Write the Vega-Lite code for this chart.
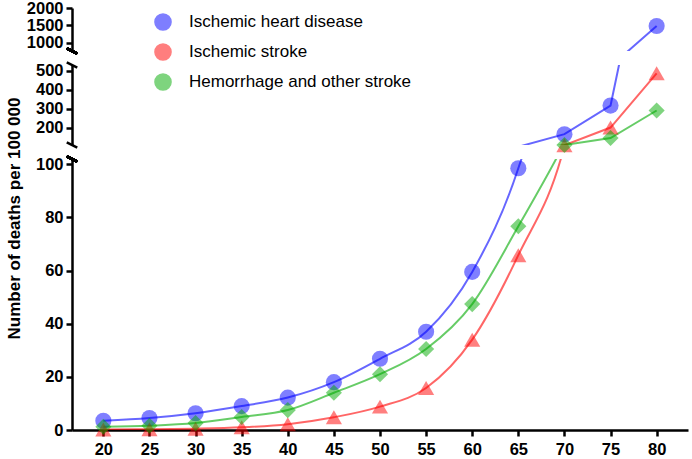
{
  "$schema": "https://vega.github.io/schema/vega-lite/v6.json",
  "padding": {"left": 5, "top": 0, "right": 4, "bottom": 3},
  "spacing": 14,
  "bounds": "flush",
  "config": {
    "view": {"stroke": null},
    "font": "Liberation Sans",
    "axis": {
      "domainColor": "black", "domainWidth": 2.5, "tickColor": "black", "tickWidth": 2.5, "tickSize": 6,
      "labelFont": "Liberation Sans", "labelFontWeight": "bold", "labelFontSize": 16.5, "labelColor": "black",
      "labelOverlap": false, "labelPadding": 3, "format": "d",
      "grid": false, "titleFont": "Liberation Sans", "titleFontWeight": "bold", "titleFontSize": 17, "titleColor": "black"
    }
  },
  "data": {"values": [
    {"age": 20, "cause": "Ischemic heart disease", "deaths": 3.5},
    {"age": 25, "cause": "Ischemic heart disease", "deaths": 4.5},
    {"age": 30, "cause": "Ischemic heart disease", "deaths": 6.3},
    {"age": 35, "cause": "Ischemic heart disease", "deaths": 9},
    {"age": 40, "cause": "Ischemic heart disease", "deaths": 12.2},
    {"age": 45, "cause": "Ischemic heart disease", "deaths": 18},
    {"age": 50, "cause": "Ischemic heart disease", "deaths": 26.8},
    {"age": 55, "cause": "Ischemic heart disease", "deaths": 37},
    {"age": 60, "cause": "Ischemic heart disease", "deaths": 59.5},
    {"age": 65, "cause": "Ischemic heart disease", "deaths": 98.5},
    {"age": 70, "cause": "Ischemic heart disease", "deaths": 165},
    {"age": 75, "cause": "Ischemic heart disease", "deaths": 316},
    {"age": 80, "cause": "Ischemic heart disease", "deaths": 1480},
    {"age": 20, "cause": "Ischemic stroke", "deaths": 0.2},
    {"age": 25, "cause": "Ischemic stroke", "deaths": 0.3},
    {"age": 30, "cause": "Ischemic stroke", "deaths": 0.5},
    {"age": 35, "cause": "Ischemic stroke", "deaths": 1},
    {"age": 40, "cause": "Ischemic stroke", "deaths": 2.2},
    {"age": 45, "cause": "Ischemic stroke", "deaths": 4.8},
    {"age": 50, "cause": "Ischemic stroke", "deaths": 8.8},
    {"age": 55, "cause": "Ischemic stroke", "deaths": 15.8},
    {"age": 60, "cause": "Ischemic stroke", "deaths": 34},
    {"age": 65, "cause": "Ischemic stroke", "deaths": 65.8},
    {"age": 70, "cause": "Ischemic stroke", "deaths": 107},
    {"age": 75, "cause": "Ischemic stroke", "deaths": 200},
    {"age": 80, "cause": "Ischemic stroke", "deaths": 486},
    {"age": 20, "cause": "Hemorrhage and other stroke", "deaths": 1.2},
    {"age": 25, "cause": "Hemorrhage and other stroke", "deaths": 1.6},
    {"age": 30, "cause": "Hemorrhage and other stroke", "deaths": 2.6},
    {"age": 35, "cause": "Hemorrhage and other stroke", "deaths": 4.9},
    {"age": 40, "cause": "Hemorrhage and other stroke", "deaths": 7.5},
    {"age": 45, "cause": "Hemorrhage and other stroke", "deaths": 14},
    {"age": 50, "cause": "Hemorrhage and other stroke", "deaths": 21},
    {"age": 55, "cause": "Hemorrhage and other stroke", "deaths": 30.5},
    {"age": 60, "cause": "Hemorrhage and other stroke", "deaths": 47.4},
    {"age": 65, "cause": "Hemorrhage and other stroke", "deaths": 76.7},
    {"age": 70, "cause": "Hemorrhage and other stroke", "deaths": 108},
    {"age": 75, "cause": "Hemorrhage and other stroke", "deaths": 145},
    {"age": 80, "cause": "Hemorrhage and other stroke", "deaths": 290}
  ]},
  "vconcat": [
    {
      "width": 616, "height": 43,
      "layer": [
        {
          "transform": [{"filter": "datum.deaths >= 760"}],
          "mark": {"type": "point", "filled": true, "opacity": 0.5, "size": 260},
          "encoding": {
            "x": {"field": "age", "type": "quantitative", "scale": {"domain": [16.6, 83.4], "nice": false, "zero": false}, "axis": null},
            "y": {"field": "deaths", "type": "quantitative", "scale": {"domain": [760, 2000], "nice": false, "zero": false},
                  "axis": {"values": [1000, 1500, 2000], "tickCount": 20, "title": null, "labelOverlap": false}},
            "color": {"field": "cause", "type": "nominal",
                      "scale": {"domain": ["Ischemic heart disease", "Ischemic stroke", "Hemorrhage and other stroke"], "range": ["#0000ff", "#ff0000", "#00aa00"]},
                      "legend": {
                        "title": null, "orient": "none", "legendX": 82, "legendY": 5,
                        "labelFontSize": 17, "labelFont": "Liberation Sans", "labelColor": "black", "labelOffset": 17, "labelLimit": 400,
                        "symbolSize": 260, "rowPadding": 6,
                        "encode": {"symbols": {
                          "shape": {"value": {"expr": "datum.value === 'Ischemic heart disease' ? 'M-1,0A1,1,0,1,1,1,0A1,1,0,1,1,-1,0Z M-1.8,0L1.8,0' : datum.value === 'Ischemic stroke' ? 'M0,-1.05L1.1,0.85L-1.1,0.85Z M-1.8,0.2L1.8,0.2' : 'M0,-1L1,0L0,1L-1,0Z M-1.8,0L1.8,0'"}},
                          "fillOpacity": {"value": 0.5},
                          "stroke": {"value": {"expr": "scale('color', datum.value)"}},
                          "strokeOpacity": {"value": 0.6},
                          "strokeWidth": {"value": 1.5},
                          "opacity": {"value": 1}
                        }}
                      }},
            "shape": {"field": "cause", "type": "nominal",
                      "scale": {"domain": ["Hemorrhage and other stroke", "Ischemic heart disease", "Ischemic stroke"], "range": ["diamond", "circle", "triangle-up"]},
                      "legend": null}
          }
        },
        {
          "mark": {"type": "line", "clip": true, "strokeWidth": 2, "opacity": 0.6},
          "encoding": {
            "x": {"field": "age", "type": "quantitative"},
            "y": {"field": "deaths", "type": "quantitative"},
            "color": {"field": "cause", "type": "nominal"},
            "detail": {"field": "cause"}
          }
        },
        {
          "mark": {"type": "point", "shape": "M-1,-0.5L1,0.5", "stroke": "black", "strokeWidth": 2.5, "size": 110, "opacity": 1, "filled": false},
          "encoding": {"x": {"datum": 16.6, "type": "quantitative"}, "y": {"datum": 760, "type": "quantitative"}}
        }
      ]
    },
    {
      "width": 616, "height": 80,
      "layer": [
        {
          "mark": {"type": "line", "clip": true, "strokeWidth": 2, "opacity": 0.6},
          "encoding": {
            "x": {"field": "age", "type": "quantitative", "scale": {"domain": [16.6, 83.4], "nice": false, "zero": false}, "axis": null},
            "y": {"field": "deaths", "type": "quantitative", "scale": {"domain": [108, 530], "nice": false, "zero": false},
                  "axis": {"values": [200, 300, 400, 500], "tickCount": 20, "title": null, "labelOverlap": false}},
            "color": {"field": "cause", "type": "nominal"},
            "detail": {"field": "cause"}
          }
        },
        {
          "transform": [{"filter": "datum.deaths > 102 && datum.deaths < 760"}],
          "mark": {"type": "point", "filled": true, "opacity": 0.5, "size": 260},
          "encoding": {
            "x": {"field": "age", "type": "quantitative"},
            "y": {"field": "deaths", "type": "quantitative"},
            "color": {"field": "cause", "type": "nominal"},
            "shape": {"field": "cause", "type": "nominal", "legend": null}
          }
        },
        {
          "data": {"values": [{"b": 108}, {"b": 530}]},
          "mark": {"type": "point", "shape": "M-1,-0.5L1,0.5", "stroke": "black", "strokeWidth": 2.5, "size": 110, "opacity": 1, "filled": false},
          "encoding": {"x": {"datum": 16.6, "type": "quantitative"}, "y": {"field": "b", "type": "quantitative"}}
        }
      ]
    },
    {
      "width": 616, "height": 271,
      "layer": [
        {
          "mark": {"type": "line", "clip": true, "strokeWidth": 2, "opacity": 0.6, "interpolate": "monotone"},
          "encoding": {
            "x": {"field": "age", "type": "quantitative", "scale": {"domain": [16.6, 83.4], "nice": false, "zero": false},
                  "axis": {"values": [20, 25, 30, 35, 40, 45, 50, 55, 60, 65, 70, 75, 80], "tickCount": 20, "title": null, "labelPadding": 5}},
            "y": {"field": "deaths", "type": "quantitative", "scale": {"domain": [0, 102], "nice": false},
                  "axis": {"values": [0, 20, 40, 60, 80, 100], "tickCount": 20, "title": "Number of deaths per 100 000", "titleY": 59, "titlePadding": 12}},
            "color": {"field": "cause", "type": "nominal"},
            "detail": {"field": "cause"}
          }
        },
        {
          "transform": [{"filter": "datum.deaths <= 102"}],
          "mark": {"type": "point", "filled": true, "opacity": 0.5, "size": 260},
          "encoding": {
            "x": {"field": "age", "type": "quantitative"},
            "y": {"field": "deaths", "type": "quantitative"},
            "color": {"field": "cause", "type": "nominal"},
            "shape": {"field": "cause", "type": "nominal", "legend": null}
          }
        },
        {
          "mark": {"type": "point", "shape": "M-1,-0.5L1,0.5", "stroke": "black", "strokeWidth": 2.5, "size": 110, "opacity": 1, "filled": false},
          "encoding": {"x": {"datum": 16.6, "type": "quantitative"}, "y": {"datum": 102, "type": "quantitative"}}
        }
      ]
    }
  ]
}
